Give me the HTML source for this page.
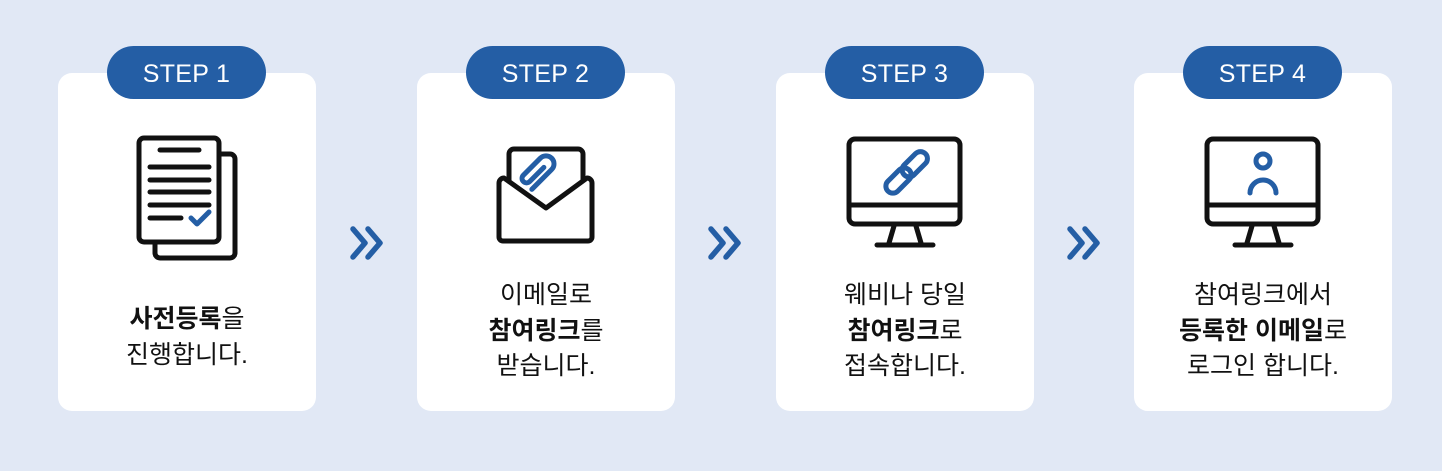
<!DOCTYPE html>
<html><head><meta charset="utf-8"><style>
body{margin:0;width:1442px;height:471px;background:#e1e8f5;position:relative;overflow:hidden;font-family:"Liberation Sans","Noto Sans CJK KR",sans-serif}
.card{position:absolute;top:73px;width:258px;height:338px;background:#fff;border-radius:14px}
.pill{position:absolute;top:46px;width:159px;height:53px;background:#245ea5;border-radius:27px;color:#fff;font-size:25px;line-height:57px;text-align:center;letter-spacing:0.3px}
.txt{position:absolute;width:258px;text-align:center;font-size:25px;line-height:35.5px;color:#111}
b{font-weight:700}
svg{position:absolute;left:0;top:0}
</style></head><body>
<div class="card" style="left:58px"></div>
<div class="card" style="left:417px"></div>
<div class="card" style="left:776px"></div>
<div class="card" style="left:1134px"></div>
<div class="pill" style="left:107px">STEP 1</div>
<div class="pill" style="left:466px">STEP 2</div>
<div class="pill" style="left:825px">STEP 3</div>
<div class="pill" style="left:1183px">STEP 4</div>

<svg width="1442" height="471" fill="none" stroke-linecap="round" stroke-linejoin="round">
<rect x="155" y="154" width="80" height="104" rx="5" stroke="#111" stroke-width="5" fill="#fff"/>
<rect x="139" y="138" width="80" height="104" rx="5" stroke="#111" stroke-width="5" fill="#fff"/>
<g stroke="#111" stroke-width="5">
<line x1="160" y1="150" x2="199" y2="150"/>
<line x1="150" y1="167" x2="209" y2="167"/>
<line x1="150" y1="180" x2="209" y2="180"/>
<line x1="150" y1="192" x2="209" y2="192"/>
<line x1="150" y1="205" x2="209" y2="205"/>
<line x1="150" y1="218" x2="181" y2="218"/>
</g>
<polyline points="191,218 197,224 209,212" stroke="#245ea5" stroke-width="5"/>
<g stroke="#245ea5" stroke-width="5.5">
<polyline points="353,229 365,243 353,257"/><polyline points="368,229 380,243 368,257"/>
<polyline points="711,229 723,243 711,257"/><polyline points="726,229 738,243 726,257"/>
<polyline points="1070,229 1082,243 1070,257"/><polyline points="1085,229 1097,243 1085,257"/>
</g>
<rect x="509" y="149" width="74" height="80" rx="5" stroke="#111" stroke-width="5" fill="#fff"/>
<g transform="rotate(-45 546 178)" stroke="#245ea5" stroke-width="5">
<path d="M528,176 h28 a8,8 0 0 0 0,-16 h-24 a4.5,4.5 0 0 0 0,9 h20"/>
</g>
<path d="M499,183 a5,5 0 0 1 5,-5 L546,208 L587,178 a5,5 0 0 1 5,5 v54 a4,4 0 0 1 -4,4 h-85 a4,4 0 0 1 -4,-4 z" stroke="#111" stroke-width="5" fill="#fff"/>
<g stroke="#111" stroke-width="5">
<rect x="849" y="139" width="111" height="85" rx="6"/>
<line x1="849" y1="205" x2="960" y2="205"/>
<path d="M894,226 L889,243 M916,226 L921,243 M877,245 H933"/>
</g>
<g transform="rotate(-45 907 172)" stroke="#245ea5" stroke-width="5">
<rect x="880" y="165" width="30" height="14" rx="7"/>
<rect x="903" y="165" width="30" height="14" rx="7"/>
</g>
<g stroke="#111" stroke-width="5">
<rect x="1207" y="139" width="111" height="85" rx="6"/>
<line x1="1207" y1="205" x2="1318" y2="205"/>
<path d="M1252,226 L1247,243 M1274,226 L1279,243 M1235,245 H1291"/>
</g>
<circle cx="1263" cy="161" r="7" stroke="#245ea5" stroke-width="5"/>
<path d="M1250,193 a13,13 0 0 1 26,0" stroke="#245ea5" stroke-width="5"/>
</svg>

<div class="txt" style="left:58px;top:302px"><b>사전등록</b>을<br>진행합니다.</div>
<div class="txt" style="left:417px;top:278px">이메일로<br><b>참여링크</b>를<br>받습니다.</div>
<div class="txt" style="left:776px;top:278px">웨비나 당일<br><b>참여링크</b>로<br>접속합니다.</div>
<div class="txt" style="left:1134px;top:278px">참여링크에서<br><b>등록한 이메일</b>로<br>로그인 합니다.</div>
</body></html>
